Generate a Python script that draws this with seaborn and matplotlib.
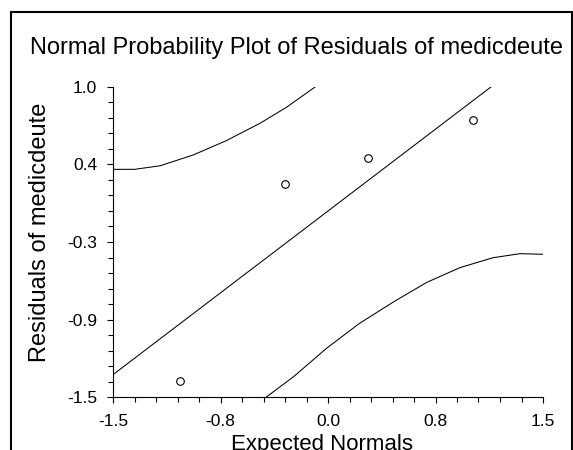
import matplotlib
matplotlib.use("Agg")
import matplotlib.pyplot as plt
from matplotlib.patches import Rectangle
from matplotlib.ticker import AutoMinorLocator, FixedLocator, FixedFormatter
import numpy as np
import pandas as pd
import seaborn as sns

# residuals vs expected normal scores
expected = [-1.03, -0.30, 0.28, 1.01]
residuals = [-1.37, 0.22, 0.43, 0.73]

# reference line through origin
line_x = [-1.5, 1.5]
line_slope = 0.88

# confidence bands
upper_x = [-1.5, -1.35, -1.17, -0.94, -0.71, -0.475, -0.29, -0.12, -0.09]
upper_y = [0.336, 0.336, 0.365, 0.452, 0.567, 0.707, 0.836, 0.976, 1.0]
lower_x = [-0.43, -0.24, -0.01, 0.22, 0.46, 0.69, 0.92, 1.15, 1.34, 1.5]
lower_y = [-1.5, -1.336, -1.107, -0.906, -0.731, -0.575, -0.457, -0.377, -0.344, -0.349]

x_ticks = [-1.5, -0.75, 0.0, 0.75, 1.5]
x_labels = ["-1.5", "-0.8", "0.0", "0.8", "1.5"]
y_ticks = [-1.5, -0.875, -0.25, 0.375, 1.0]
y_labels = ["-1.5", "-0.9", "-0.3", "0.4", "1.0"]

sns.set_theme(style="ticks")
plt.rcParams["font.family"] = ["Liberation Sans", "DejaVu Sans"]

fig = plt.figure(figsize=(5.73, 4.5), dpi=100)
ax = fig.add_axes([113 / 573, 53 / 450, 430 / 573, 310 / 450])

pts = pd.DataFrame({"expected": expected, "residual": residuals})
line_df = pd.DataFrame({"x": line_x, "y": [line_slope * v for v in line_x]})
up = pd.DataFrame({"x": upper_x, "y": upper_y})
lo = pd.DataFrame({"x": lower_x, "y": lower_y})

lw = 0.75
sns.lineplot(data=line_df, x="x", y="y", color="black", lw=lw, ax=ax, sort=False)
sns.lineplot(data=up, x="x", y="y", color="black", lw=lw, ax=ax, sort=False)
sns.lineplot(data=lo, x="x", y="y", color="black", lw=lw, ax=ax, sort=False)
sns.scatterplot(data=pts, x="expected", y="residual", marker="o", s=30,
                facecolor="white", edgecolor="black", linewidth=0.8, ax=ax, zorder=5)

ax.set_xlim(-1.5, 1.5)
ax.set_ylim(-1.5, 1.0)
ax.xaxis.set_major_locator(FixedLocator(x_ticks))
ax.xaxis.set_major_formatter(FixedFormatter(x_labels))
ax.yaxis.set_major_locator(FixedLocator(y_ticks))
ax.yaxis.set_major_formatter(FixedFormatter(y_labels))
ax.xaxis.set_minor_locator(AutoMinorLocator(5))
ax.yaxis.set_minor_locator(AutoMinorLocator(5))
ax.tick_params(which="major", direction="out", length=4.5, width=0.8, color="black",
               labelsize=12.5, labelcolor="black")
ax.tick_params(axis="x", which="major", pad=8)
ax.tick_params(axis="y", which="major", pad=7)
ax.tick_params(which="minor", direction="out", length=3.5, width=0.8, color="black")

for side in ["top", "right"]:
    ax.spines[side].set_visible(False)
for side in ["left", "bottom"]:
    ax.spines[side].set_linewidth(0.8)
    ax.spines[side].set_color("black")

ax.set_xlabel("Expected Normals", fontsize=16, color="black")
ax.set_ylabel("Residuals of medicdeute", fontsize=17, color="black")
ax.xaxis.set_label_coords(0.487, -0.118)
ax.yaxis.set_label_coords(-0.145, 0.532)

fig.text(297 / 573, 1 - 54 / 450, "Normal Probability Plot of Residuals of medicdeute",
         fontsize=17, ha="center", va="baseline", color="black")

# outer frame, open at the bottom edge
frame = Rectangle((11 / 573, -0.1), 561 / 573, 1.1 - 12 / 450, transform=fig.transFigure,
                  fill=False, edgecolor="black", lw=1.5, clip_on=False)
fig.patches.append(frame)

fig.savefig("out.png", dpi=100)
